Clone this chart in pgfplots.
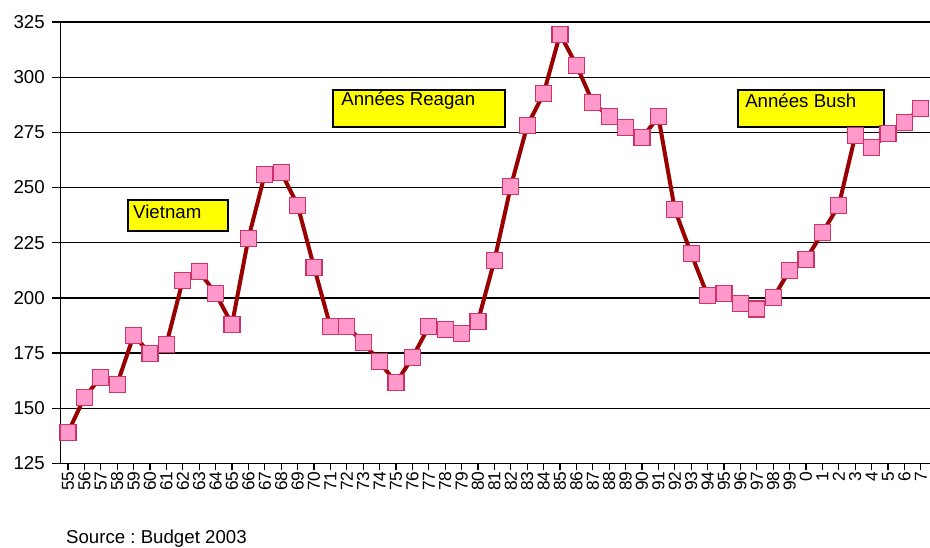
\documentclass[border=0pt]{standalone}
\usepackage{pgfplots}
\pgfplotsset{compat=1.18}
\usepackage{fontspec}
\setmainfont{Liberation Sans}
\definecolor{linered}{RGB}{153,0,0}
\definecolor{mkfill}{RGB}{255,153,204}
\definecolor{mkdraw}{RGB}{204,51,102}
\definecolor{boxyellow}{RGB}{255,255,0}
\frenchspacing
\begin{document}
\begin{tikzpicture}
\useasboundingbox (-45.375pt,-62.625pt) rectangle (652.125pt,347.625pt);
\begin{axis}[
  scale only axis, width=652.125pt, height=331.125pt,
  at={(0pt,0pt)}, anchor=south west,
  xmin=-0.457, xmax=52.56, ymin=125, ymax=325,
  axis x line=bottom, axis y line=left,
  axis line style={-, line width=1.2pt, black},
  ytick={125,150,175,200,225,250,275,300,325},
  xtick={0,...,52},
  xticklabels={55,56,57,58,59,60,61,62,63,64,65,66,67,68,69,70,71,72,73,74,75,76,77,78,79,80,81,82,83,84,85,86,87,88,89,90,91,92,93,94,95,96,97,98,99,0,1,2,3,4,5,6,7},
  tick align=outside,
  ytick style={black, line width=1pt, /pgfplots/major tick length=6pt},
  xtick style={black, line width=1pt, /pgfplots/major tick length=4.5pt},
  ymajorgrids, grid style={black, line width=1pt},
  /pgf/number format/assume math mode=true,
  y tick label style={font=\fontsize{14}{14}\selectfont, xshift=-4pt},
  x tick label style={rotate=90, anchor=east, font=\fontsize{13}{13}\selectfont, inner sep=1.5pt},
]
\addplot[color=linered, line width=3pt, mark=square*, mark size=6pt,
  mark options={fill=mkfill, draw=mkdraw, line width=0.8pt, solid}] coordinates {
(0,139) (1,155) (2,164) (3,161) (4,183) (5,175) (6,179) (7,208) (8,212) (9,202)
(10,188) (11,227) (12,256) (13,257) (14,242) (15,214) (16,187) (17,187) (18,180) (19,171)
(20,161.5) (21,173) (22,187) (23,185.5) (24,184) (25,189.5) (26,217) (27,250.5) (28,278) (29,292.5)
(30,319.5) (31,305.5) (32,288.5) (33,282) (34,277) (35,272.5) (36,282) (37,240) (38,220) (39,201)
(40,202) (41,197.5) (42,195) (43,200) (44,212.5) (45,217.5) (46,229.5) (47,242) (48,273.5) (49,268)
(50,274.5) (51,279.5) (52,286)
};
\draw[fill=boxyellow, line width=1pt] (axis cs:3.66,244.4) rectangle (axis cs:9.76,230.3);
\node[anchor=west, inner sep=0pt, font=\fontsize{14}{16}\selectfont] at (axis cs:3.96,239.2) {Vietnam};
\draw[fill=boxyellow, line width=1pt] (axis cs:16.16,294.2) rectangle (axis cs:26.65,277.4);
\node[anchor=west, inner sep=0pt, font=\fontsize{14}{16}\selectfont] at (axis cs:16.65,289.4) {Années Reagan};
\draw[fill=boxyellow, line width=1pt] (axis cs:40.85,294.2) rectangle (axis cs:49.76,277.4);
\node[anchor=west, inner sep=0pt, font=\fontsize{14}{16}\selectfont] at (axis cs:41.28,289.4) {Années Bush};
\end{axis}
\node[anchor=west, inner sep=0pt, font=\fontsize{14}{16}\selectfont] at (4pt,-56pt) {Source : Budget 2003};
\end{tikzpicture}
\end{document}
